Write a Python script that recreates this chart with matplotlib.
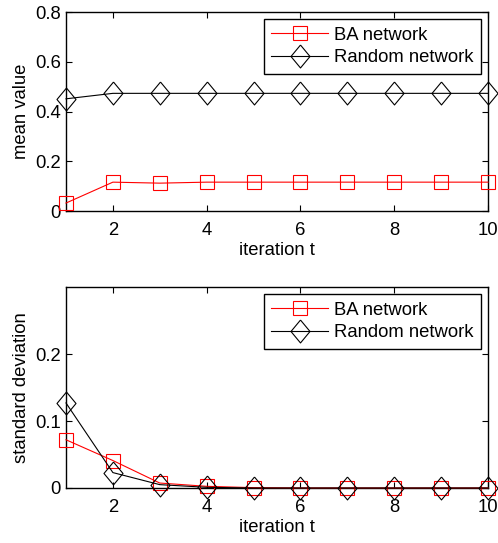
import matplotlib
matplotlib.use("Agg")
import matplotlib.pyplot as plt
from matplotlib.ticker import FormatStrFormatter

# data
iterations = [1, 2, 3, 4, 5, 6, 7, 8, 9, 10]
ba_mean = [0.032, 0.116, 0.112, 0.116, 0.116, 0.116, 0.116, 0.116, 0.116, 0.116]
random_mean = [0.451, 0.473, 0.473, 0.473, 0.473, 0.473, 0.473, 0.473, 0.473, 0.473]
ba_std = [0.072, 0.041, 0.0074, 0.0025, 0.0005, 0.0, 0.0, 0.0, 0.0, 0.0]
random_std = [0.127, 0.023, 0.005, 0.001, 0.0, 0.0, 0.0, 0.0, 0.0, 0.0]

plt.rcParams["font.family"] = ["Liberation Sans", "DejaVu Sans"]
plt.rcParams["font.size"] = 13.3

diamond = [(0, 1), (0.83, 0), (0, -1), (-0.83, 0), (0, 1)]

fig = plt.figure(figsize=(4.98, 5.43), dpi=100)
ax1 = fig.add_axes([0.1325, 0.6114, 0.8475, 0.3665])
ax2 = fig.add_axes([0.1325, 0.1013, 0.8475, 0.3700])


def draw(ax, ba, rnd, ylabel, ylim, yticks):
    ax.plot(iterations, ba, color="red", lw=0.8, marker="s", ms=10.5,
            mfc="none", mec="red", mew=0.8, label="BA network", clip_on=False,
            zorder=3)
    ax.plot(iterations, rnd, color="black", lw=0.8, marker=diamond, ms=16.5,
            mfc="none", mec="black", mew=0.8, label="Random network",
            clip_on=False, zorder=3)
    ax.set_xlim(1, 10)
    ax.set_ylim(*ylim)
    ax.set_xticks([2, 4, 6, 8, 10])
    ax.set_yticks(yticks)
    ax.yaxis.set_major_formatter(FormatStrFormatter("%g"))
    ax.tick_params(direction="in", top=True, right=True, length=4, width=0.8)
    ax.tick_params(axis="x", pad=8)
    for s in ax.spines.values():
        s.set_linewidth(1.0)
    ax.set_xlabel("iteration t", labelpad=2)
    ax.set_ylabel(ylabel, labelpad=4)
    leg = ax.legend(loc="upper right", fancybox=False, framealpha=1,
                    edgecolor="black", borderpad=0.4, handlelength=3.1,
                    handletextpad=0.3, labelspacing=0.3, borderaxespad=0.4)
    leg.get_frame().set_linewidth(1.0)
    leg.set_zorder(5)


draw(ax1, ba_mean, random_mean, "mean value", (0, 0.8), [0, 0.2, 0.4, 0.6, 0.8])
draw(ax2, ba_std, random_std, "standard deviation", (0, 0.3), [0, 0.1, 0.2])

fig.savefig("out.png", dpi=100)
